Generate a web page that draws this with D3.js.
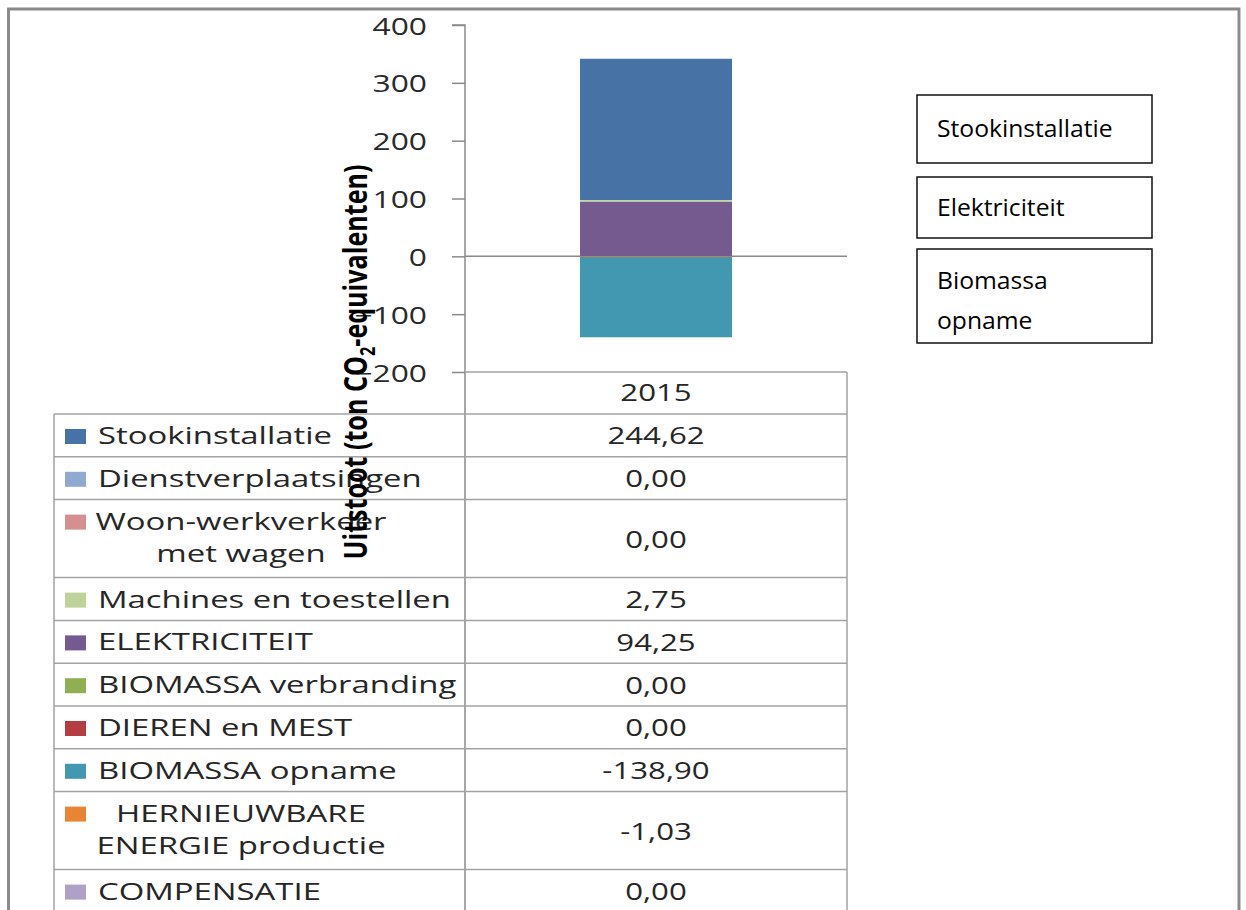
<!DOCTYPE html>
<html>
<head>
<meta charset="utf-8">
<script src="https://cdn.jsdelivr.net/npm/d3@7/dist/d3.min.js"></script>
<style>
  html, body { margin: 0; padding: 0; background: #ffffff; }
  svg { display: block; }
</style>
</head>
<body>
<svg id="chart" width="1246" height="910"></svg>
<script>
// ---------------- DATA ----------------
const categories = ["2015"];
const seriesNames = [
  "Stookinstallatie",
  "Dienstverplaatsingen",
  "Woon-werkverkeer met wagen",
  "Machines en toestellen",
  "ELEKTRICITEIT",
  "BIOMASSA verbranding",
  "DIEREN en MEST",
  "BIOMASSA opname",
  "HERNIEUWBARE ENERGIE productie",
  "COMPENSATIE"
];
// label lines as shown in the data table
const seriesLabelLines = [
  ["Stookinstallatie"],
  ["Dienstverplaatsingen"],
  ["Woon-werkverkeer", "met wagen"],
  ["Machines en toestellen"],
  ["ELEKTRICITEIT"],
  ["BIOMASSA verbranding"],
  ["DIEREN en MEST"],
  ["BIOMASSA opname"],
  ["HERNIEUWBARE", "ENERGIE productie"],
  ["COMPENSATIE"]
];
const values2015 = [244.62, 0.00, 0.00, 2.75, 94.25, 0.00, 0.00, -138.90, -1.03, 0.00];
const valueLabels2015 = ["244,62", "0,00", "0,00", "2,75", "94,25", "0,00", "0,00", "-138,90", "-1,03", "0,00"];
const seriesColors = ["#4672a5", "#8fa9d1", "#d48f8e", "#bdd39a", "#745a8e", "#8fb052", "#b33d40", "#4198b0", "#e98432", "#aea0c6"];
const yTicks = [-200, -100, 0, 100, 200, 300, 400];
const yTitle = { pre: "Uitstoot (ton CO", sub: "2", post: "-equivalenten)" };
const annotationBoxes = [["Stookinstallatie"], ["Elektriciteit"], ["Biomassa", "opname"]];

// ---------------- LAYOUT ----------------
const svg = d3.select("#chart");
const FONT = "'Open Sans', 'Noto Sans', sans-serif";
const axisX = 465, plotRight = 847;
const yTop = 25, yBottom = 372;
const tableLeft = 54;
const headerTop = 372, headerH = 42;
const rowH1 = 42.8, rowH2 = 78;
const SX = 1.37;     // horizontal stretch of the original picture
const TICK_SX = 1.38;

// outer frame
svg.append("rect")
  .attr("x", 8.5).attr("y", 9).attr("width", 1230.5).attr("height", 930)
  .attr("fill", "none").attr("stroke", "#8a8a8a").attr("stroke-width", 3);

// scales
const x = d3.scaleBand().domain(categories).range([axisX, plotRight]).paddingInner(0).paddingOuter(0.757);
const y = d3.scaleLinear().domain([-200, 400]).range([yBottom, yTop]);

// zero line
svg.append("line")
  .attr("x1", axisX).attr("x2", plotRight)
  .attr("y1", y(0)).attr("y2", y(0))
  .attr("stroke", "#8a8a8a").attr("stroke-width", 1.5);

// stacked bars
const rows = categories.map((c, ci) => {
  const o = { category: c };
  seriesNames.forEach((s, si) => { o[s] = values2015[si]; });
  return o;
});
const stack = d3.stack()
  .keys(seriesNames)
  .order(d3.stackOrderReverse)
  .offset(d3.stackOffsetDiverging);
const stacked = stack(rows);
const colorOf = d3.scaleOrdinal().domain(seriesNames).range(seriesColors);

svg.append("g").selectAll("g")
  .data(stacked)
  .join("g")
  .attr("fill", d => colorOf(d.key))
  .selectAll("rect")
  .data(d => d)
  .join("rect")
  .attr("x", d => x(d.data.category))
  .attr("width", x.bandwidth())
  .attr("y", d => y(Math.max(d[0], d[1])))
  .attr("height", d => Math.abs(y(d[0]) - y(d[1])));

// y axis
const yAxis = d3.axisLeft(y).tickValues(yTicks).tickSize(13).tickPadding(0).tickFormat(d3.format("d"));
const gAxis = svg.append("g").attr("transform", `translate(${axisX},0)`).call(yAxis);
gAxis.select(".domain").attr("stroke", "#8a8a8a").attr("stroke-width", 1.5)
  .attr("d", `M-13,${y(400)}H0V${910}`);
gAxis.selectAll(".tick line").attr("stroke", "#8a8a8a").attr("stroke-width", 1.5);
gAxis.selectAll(".tick text")
  .attr("x", 0).attr("dy", null)
  .attr("fill", "#2a2a2a")
  .style("font-family", FONT).style("font-size", "23px")
  .attr("text-anchor", "end")
  .attr("dominant-baseline", "central")
  .attr("transform", `translate(-38,0) scale(${TICK_SX},1)`);

// ---------------- DATA TABLE ----------------
const tableLineColor = "#a3a3a3";
const rowTops = [];
let yy = headerTop + headerH;
seriesLabelLines.forEach(lines => {
  rowTops.push(yy);
  yy += lines.length > 1 ? rowH2 : rowH1;
});

const gT = svg.append("g");
gT.append("line").attr("x1", axisX).attr("x2", plotRight).attr("y1", headerTop).attr("y2", headerTop)
  .attr("stroke", tableLineColor).attr("stroke-width", 1.5);
gT.append("line").attr("x1", plotRight).attr("x2", plotRight).attr("y1", headerTop).attr("y2", 910)
  .attr("stroke", tableLineColor).attr("stroke-width", 1.5);
gT.append("line").attr("x1", tableLeft).attr("x2", tableLeft).attr("y1", rowTops[0]).attr("y2", 910)
  .attr("stroke", tableLineColor).attr("stroke-width", 1.5);
gT.selectAll("line.row").data(rowTops).join("line").attr("class", "row")
  .attr("x1", tableLeft).attr("x2", plotRight)
  .attr("y1", d => d).attr("y2", d => d)
  .attr("stroke", tableLineColor).attr("stroke-width", 1.5);

function stretchedText(g, txt, tx, ty, anchor, size, sx, fill, weight) {
  return g.append("text")
    .attr("transform", `translate(${tx},${ty}) scale(${sx},1)`)
    .attr("text-anchor", anchor)
    .style("font-family", FONT).style("font-size", size + "px")
    .style("font-weight", weight || "normal")
    .attr("fill", fill)
    .text(txt);
}

const colCenter = x(categories[0]) + x.bandwidth() / 2;
stretchedText(gT, categories[0], colCenter, headerTop + 29, "middle", 24, 1.3, "#262626");

seriesLabelLines.forEach((lines, i) => {
  const top = rowTops[i];
  const h = lines.length > 1 ? rowH2 : rowH1;
  const firstBase = top + 30;
  gT.append("rect")
    .attr("x", 65).attr("y", firstBase - 15)
    .attr("width", 21).attr("height", 15)
    .attr("fill", seriesColors[i]);
  if (lines.length === 1) {
    stretchedText(gT, lines[0], 98, firstBase, "start", 24, SX, "#262626");
  } else {
    lines.forEach((ln, k) => {
      stretchedText(gT, ln, 241, firstBase + 32 * k, "middle", 24, SX, "#262626");
    });
  }
  stretchedText(gT, valueLabels2015[i], colCenter, top + h / 2 + 9, "middle", 24, 1.3, "#262626");
});

// ---------------- Y TITLE ----------------
const title = svg.append("text")
  .attr("transform", `translate(367,362) scale(${SX},1) rotate(-90)`)
  .attr("text-anchor", "middle")
  .style("font-family", FONT).style("font-size", "23px").style("font-weight", "bold")
  .attr("fill", "#000")
  .attr("textLength", 395).attr("lengthAdjust", "spacingAndGlyphs");
title.append("tspan").text(yTitle.pre);
title.append("tspan").text(yTitle.sub).attr("dy", 6).style("font-size", "15px");
title.append("tspan").text(yTitle.post).attr("dy", -6);

// ---------------- ANNOTATION BOXES ----------------
const boxDims = [[95, 163], [177, 238], [249, 343]];
const gB = svg.append("g");
annotationBoxes.forEach((lines, i) => {
  const [t, b] = boxDims[i];
  gB.append("rect").attr("x", 917).attr("y", t).attr("width", 235).attr("height", b - t)
    .attr("fill", "#fff").attr("stroke", "#111").attr("stroke-width", 1.5);
  const base = lines.length > 1 ? t + 40 : (t + b) / 2 + 8;
  lines.forEach((ln, k) => {
    gB.append("text")
      .attr("transform", `translate(937,${base + 40 * k}) scale(1.05,1)`)
      .style("font-family", FONT).style("font-size", "23.5px")
      .attr("fill", "#000").text(ln);
  });
});
</script>
</body>
</html>
